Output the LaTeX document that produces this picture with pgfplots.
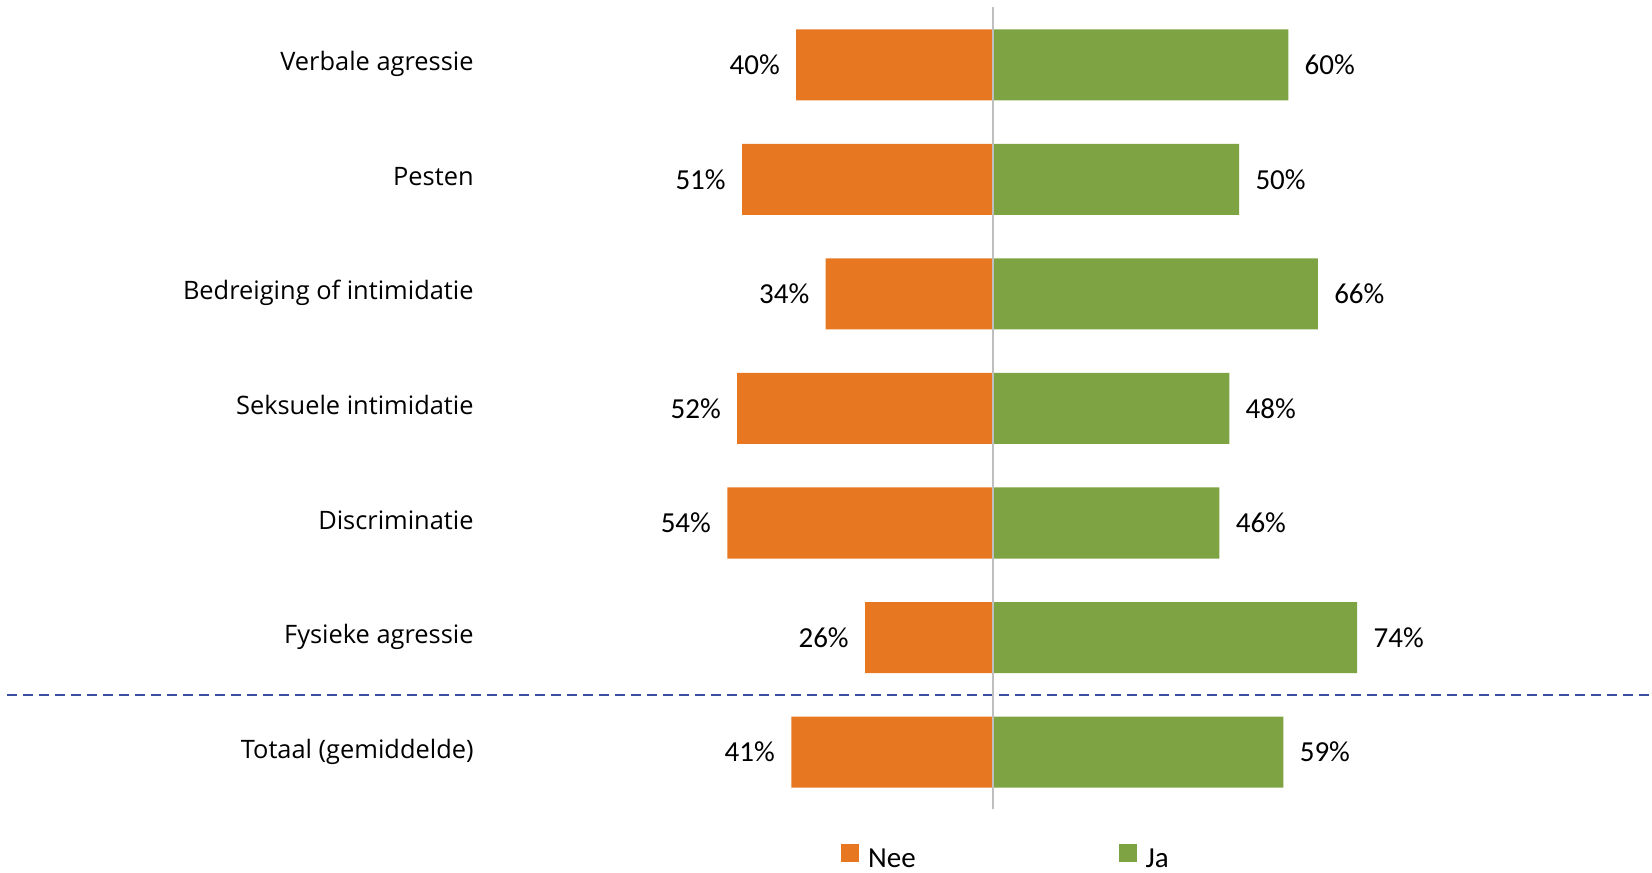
\documentclass[border=0pt]{standalone}
\usepackage{pgfplots}
\pgfplotsset{compat=1.18}
\usepackage{fontspec}
\setmainfont{Carlito}
\newfontfamily\catfont{Open Sans}

\definecolor{neeorange}{HTML}{E87722}
\definecolor{jagreen}{HTML}{7EA343}
\definecolor{sepblue}{HTML}{3A4FA0}
\definecolor{midgray}{HTML}{BFBFBF}

\begin{document}
\begin{tikzpicture}
\useasboundingbox (0,0) rectangle (826pt,436pt); % 1652x872 px at 0.5pt per px
\begin{axis}[
    at={(3.65pt,31.3pt)}, anchor=south west,
    scale only axis,
    width=822.35pt, height=400.95pt,
    xmin=-200.3, xmax=133.9,
    ymin=-0.5, ymax=6.5,
    xbar, bar width=0.62, bar shift=0pt,
    clip=false,
    axis line style={draw=none},
    major tick length=0pt,
    xtick=\empty,
    ytick={0,1,2,3,4,5,6},
    yticklabels={Totaal (gemiddelde),Fysieke agressie,Discriminatie,Seksuele intimidatie,Bedreiging of intimidatie,Pesten,Verbale agressie},
    yticklabel style={anchor=base east, inner sep=0pt, xshift=233.35pt, yshift=-3pt,
        font=\catfont\fontsize{12.7pt}{15pt}\selectfont, text=black},
    point meta=explicit symbolic,
    nodes near coords={\pgfplotspointmeta\%},
    nodes near coords style={font=\fontsize{14.5pt}{17pt}\selectfont, inner xsep=8pt, inner ysep=0pt, text=black},
    legend columns=2,
    legend style={at={(0.6066,-0.0600)}, anchor=center, draw=none, inner sep=0pt,
        font=\fontsize{14.5pt}{17pt}\selectfont,
        nodes={inner sep=0pt},
        /tikz/every odd column/.append style={column sep=4.5pt},
        /tikz/every even column/.append style={column sep=101.5pt}},
    legend image code/.code={\fill[#1] (0pt,-1pt) rectangle (9pt,8pt);},
]
% Nee (drawn to the left)
\addplot[fill=neeorange, draw=none,
    every node near coord/.append style={anchor=east}] coordinates {
    (-40,6) [40] (-51,5) [51] (-34,4) [34] (-52,3) [52]
    (-54,2) [54] (-26,1) [26] (-41,0) [41]};
% Ja
\addplot[fill=jagreen, draw=none,
    every node near coord/.append style={anchor=west}] coordinates {
    (60,6) [60] (50,5) [50] (66,4) [66] (48,3) [48]
    (46,2) [46] (74,1) [74] (59,0) [59]};
\legend{Nee,Ja}
% separator above the total and the centre line
\draw[sepblue, line width=1pt, dash pattern=on 5pt off 3pt] (axis cs:-200.3,0.5) -- (axis cs:133.9,0.5);
\draw[midgray, line width=0.75pt] (axis cs:0,-0.5) -- (axis cs:0,6.5);
\end{axis}
\end{tikzpicture}
\end{document}
